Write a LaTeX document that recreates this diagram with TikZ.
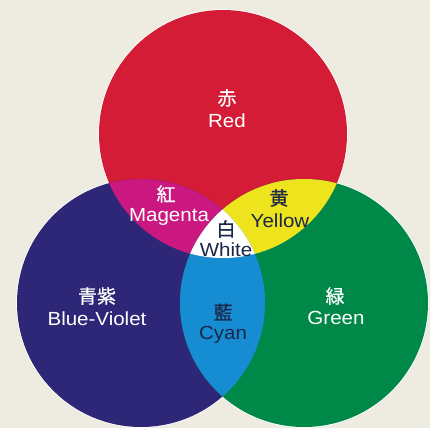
\documentclass[tikz,border=0pt]{standalone}
\usepackage{fontspec}
\setmainfont[FakeStretch=1.08]{Liberation Sans}
\newfontfamily\jp[FakeBold=0.6]{Noto Sans CJK JP}
\definecolor{bgc}{RGB}{238,235,225}
\definecolor{cred}{RGB}{212,28,54}
\definecolor{cmag}{RGB}{202,24,128}
\definecolor{cyel}{RGB}{238,228,30}
\definecolor{cblue}{RGB}{46,38,118}
\definecolor{cgreen}{RGB}{0,136,72}
\definecolor{ccyan}{RGB}{22,140,210}
\definecolor{dtext}{RGB}{28,38,72}
\tikzset{
  en/.style={font=\fontsize{19}{22}\selectfont, inner sep=0pt},
  ja/.style={font=\jp\fontsize{19}{22}\selectfont, inner sep=0pt},
  light/.style={text=white},
  dark/.style={text=dtext},
  rim/.style={draw=white, line width=1.6pt}
}
\begin{document}
\begin{tikzpicture}[x=1pt,y=-1pt]
\fill[bgc] (0,0) rectangle (430,428);
\useasboundingbox (0,0) rectangle (430,428);
\coordinate (R) at (223,134);
\coordinate (B) at (141,303);
\coordinate (G) at (304,303);
\draw[rim] (R) circle (124pt);
\draw[rim] (B) circle (124pt);
\draw[rim] (G) circle (124pt);
\fill[cred] (R) circle (124pt);
\fill[cblue] (B) circle (124pt);
\fill[cgreen] (G) circle (124pt);
\begin{scope}
  \clip (R) circle (124pt);
  \fill[cmag] (B) circle (124pt);
  \fill[cyel] (G) circle (124pt);
\end{scope}
\begin{scope}
  \clip (B) circle (124pt);
  \fill[ccyan] (G) circle (124pt);
\end{scope}
\begin{scope}
  \clip (R) circle (124pt);
  \clip (B) circle (124pt);
  \fill[white] (G) circle (124pt);
\end{scope}
% labels
\node[ja,light] (rj) at (227,98) {赤};
\node[en,light] (re) at (227,121) {Red};
\node[ja,light] (mj) at (166,194) {紅};
\node[en,light] (me) at (169,217) {Magenta};
\node[ja,dark] (yj) at (279,198) {黄};
\node[en,dark] (ye) at (280,221) {Yellow};
\node[ja,dark] (wj) at (226,229) {白};
\node[en,dark] (we) at (226,250) {White};
\node[ja,light] (bj) at (97,296) {青紫};
\node[en,light] (be) at (97,319) {Blue-Violet};
\node[ja,dark] (cj) at (223,312) {藍};
\node[en,dark] (ce) at (223,335) {Cyan};
\node[ja,light] (gj) at (335,296) {緑};
\node[en,light] (ge) at (336,318) {Green};
\end{tikzpicture}
\end{document}
